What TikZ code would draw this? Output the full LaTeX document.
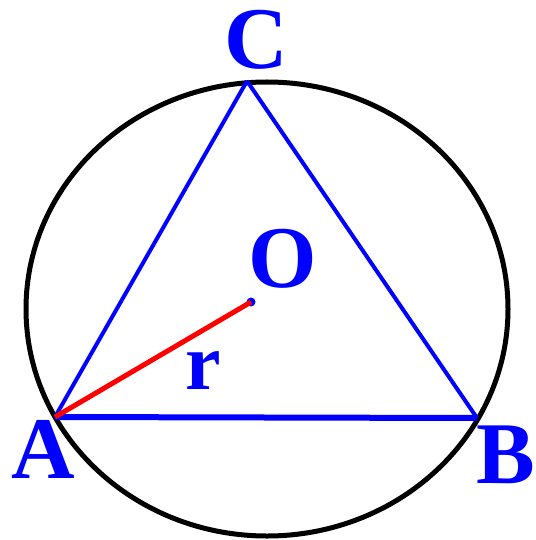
\documentclass[tikz,border=0pt]{standalone}
\usepackage{fontspec}
\setmainfont{Liberation Serif}
\usetikzlibrary{positioning}
\definecolor{ptblue}{HTML}{0000FF}
\definecolor{ptred}{HTML}{FF0000}

\begin{document}
\begin{tikzpicture}[x=1pt,y=-1pt,
lbl/.style={text=ptblue,font=\fontsize{88}{88}\selectfont\bfseries,inner sep=0pt},
side/.style={draw=ptblue,line width=4pt}]
\useasboundingbox (0,0) rectangle (535,540);
\draw[line width=5pt] (267,309) ellipse [x radius=241,y radius=227];
\coordinate (A) at (55,417);
\coordinate (B) at (477,418);
\coordinate (C) at (247,81);
\coordinate (O) at (251,302);
\node[lbl](lA) at (43,449){A};
\node[lbl](lB) at (506,455){B};
\node[lbl](lC) at (256,40){C};
\node[lbl](lO) at (283,259){O};
\node[lbl,font=\fontsize{80}{80}\selectfont\bfseries](lr) at (203,371){r};
\draw[side](A)--(C);
\draw[side](C)--(B);
\draw[side,line width=6pt](A)--(B);
\fill[ptblue](O) circle (4.5);
\draw[draw=ptred,line width=5pt](A)--(O);
\end{tikzpicture}
\end{document}
